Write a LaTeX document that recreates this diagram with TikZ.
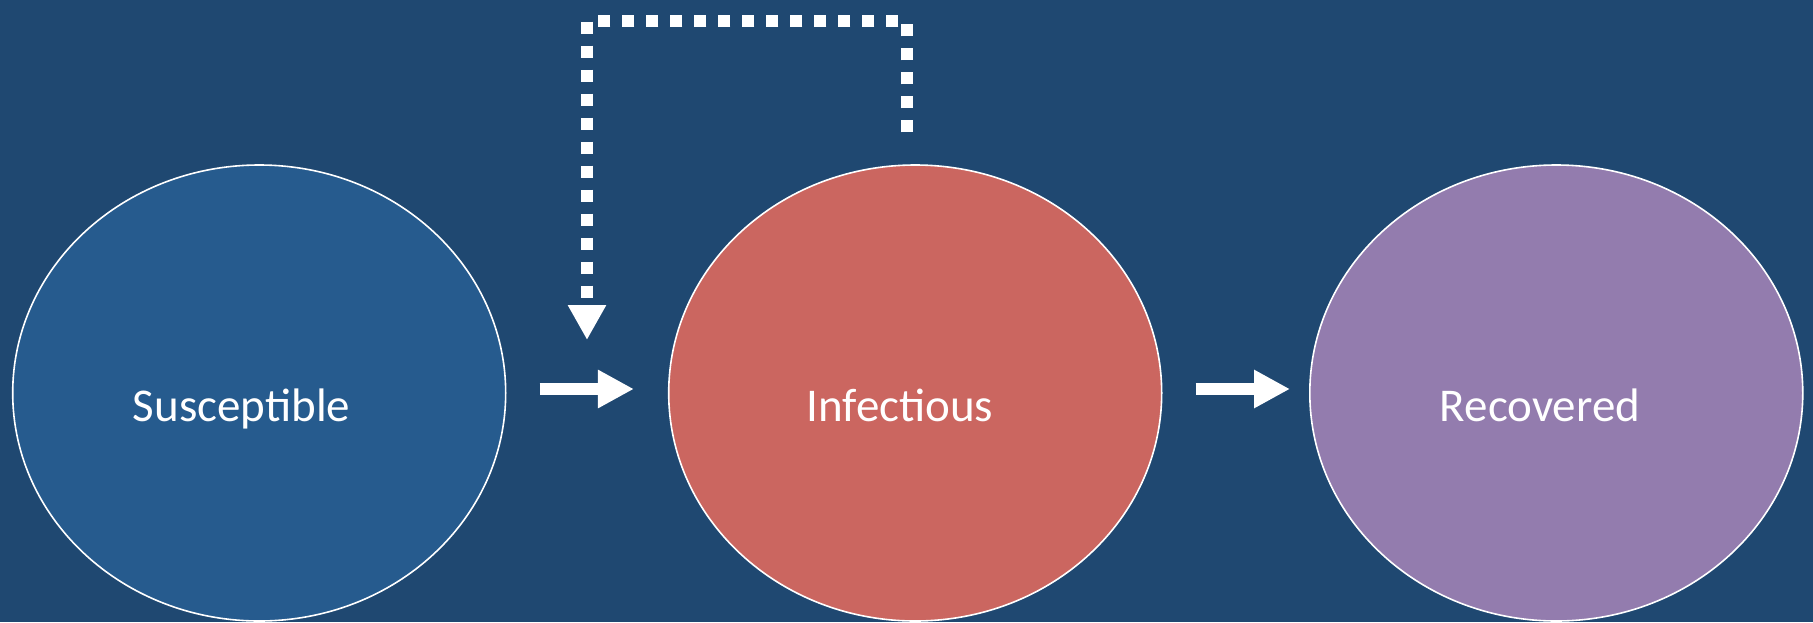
\documentclass[tikz,border=0pt]{standalone}
\usepackage{fontspec}
\setmainfont{Carlito}
\usetikzlibrary{shapes.geometric,arrows.meta}
\definecolor{bg}{RGB}{31,72,113}
\definecolor{sfill}{RGB}{38,91,142}
\definecolor{ifill}{RGB}{203,102,96}
\definecolor{rfill}{RGB}{147,124,174}
\tikzset{
  state/.style={ellipse, draw=white, line width=1.6pt, minimum width=493pt, minimum height=456pt, inner sep=0pt},
  lbl/.style={text=white, font=\fontsize{47}{56}\selectfont, anchor=base, inner sep=0pt},
  flow/.style={draw=white, line width=12.5pt, -{Triangle[width=36pt,length=36pt]}},
  feedback/.style={draw=white, line width=12pt, dash pattern=on 12pt off 12pt, line join=miter, -{Triangle[width=36pt,length=35pt]}}
}
\begin{document}
\begin{tikzpicture}[x=1pt,y=-1pt]
\fill[bg] (0,0) rectangle (1813,622);
\useasboundingbox (0,0) rectangle (1813,622);
\node[state, fill=sfill] (S) at (259.2,393) {};
\node[state, fill=ifill] (I) at (915.2,393) {};
\node[state, fill=rfill] (R) at (1556.3,393) {};
\node[lbl] (St) at (241.5,421) {Susceptible};
\node[lbl] (It) at (900,421) {Infectious};
\node[lbl] (Rt) at (1540,421) {Recovered};
\draw[flow, shorten <=33pt, shorten >=34pt] ([yshift=4pt]S.east) -- ([yshift=4pt]I.west);
\draw[flow, shorten <=33pt, shorten >=19pt] ([yshift=4pt]I.east) -- ([yshift=4pt]R.west);
\coordinate (fbstart) at (907,132.3);
\coordinate (fbend) at (587,340);
\draw[feedback] (fbstart) -- (907,21) -- (587,21) -- (fbend);
\end{tikzpicture}
\end{document}
